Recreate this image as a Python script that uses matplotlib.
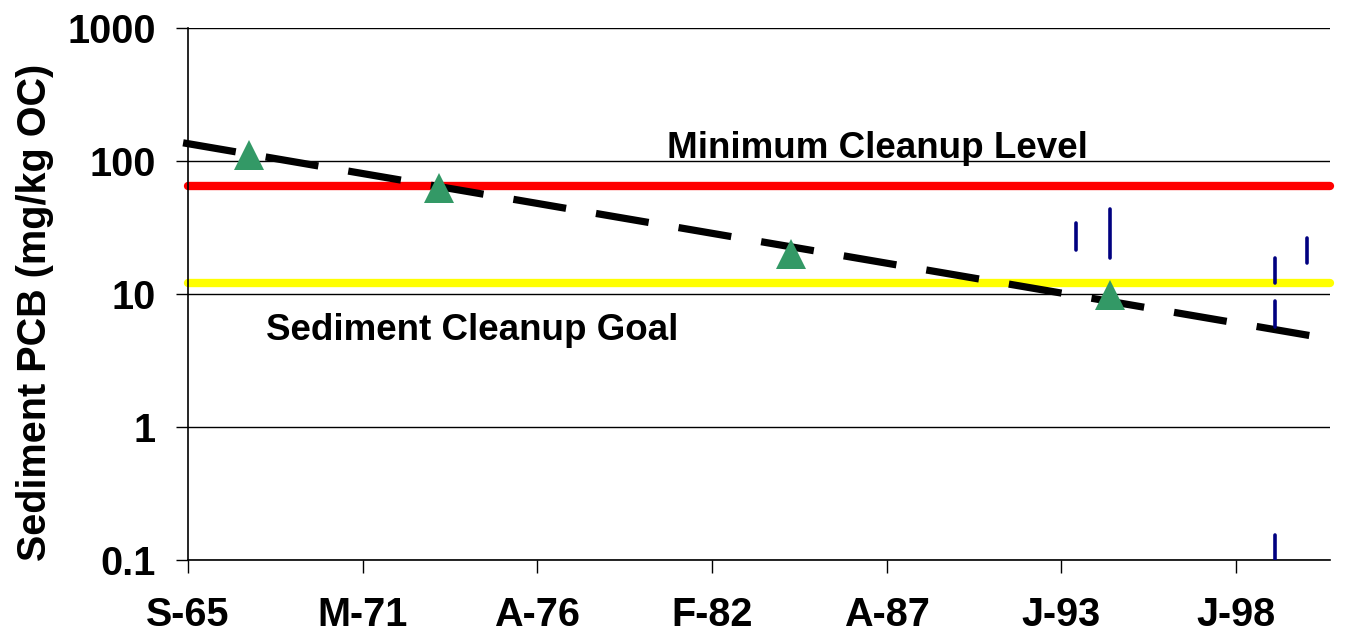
import datetime as dt

import matplotlib
matplotlib.use("Agg")
import matplotlib.pyplot as plt

plt.rcParams['font.family'] = ['Liberation Sans', 'DejaVu Sans']
plt.rcParams['font.weight'] = 'bold'

# axis start and tick layout (Excel style date axis, 2000 day steps)
axis_start = dt.date(1965, 9, 10)
axis_end = dt.date(2001, 6, 29)
tick_labels = ['S-65', 'M-71', 'A-76', 'F-82', 'A-87', 'J-93', 'J-98']
y_ticks = [0.1, 1, 10, 100, 1000]
y_tick_labels = ['0.1', '1', '10', '100', '1000']

# cleanup levels (mg/kg OC)
min_cleanup_level = 65
sediment_goal = 12

# surface sediment means
survey_dates = [dt.date(1967, 8, 9), dt.date(1973, 7, 24),
                dt.date(1984, 8, 6), dt.date(1994, 8, 10)]
survey_pcb = [110, 63, 20, 9.8]

# ranges from the later sampling events
range_dates = [dt.date(1993, 7, 13), dt.date(1994, 8, 10), dt.date(1999, 10, 9),
               dt.date(1999, 10, 9), dt.date(2000, 10, 9), dt.date(1999, 10, 9)]
range_low = [21.4, 18.7, 12.1, 5.65, 17.1, 0.09]
range_high = [34.2, 43.6, 18.7, 8.85, 26.4, 0.155]

# exponential trend line end points
trend_dates = [dt.date(1965, 7, 15), dt.date(2001, 2, 12)]
trend_pcb = [137, 4.75]

fig = plt.figure(figsize=(13.51, 6.38), dpi=100)
ax = fig.add_axes([0.1392, 0.1223, 0.8453, 0.8338])

ax.set_yscale('log')
ax.set_ylim(0.1, 1000)
ax.set_xlim(axis_start, axis_end)

ax.plot([axis_start, axis_end], [min_cleanup_level] * 2, color='#FF0000',
        lw=6, solid_capstyle='round', clip_on=False, zorder=2)
ax.plot([axis_start, axis_end], [sediment_goal] * 2, color='#FFFF00',
        lw=6, solid_capstyle='round', clip_on=False, zorder=2)

ax.plot(trend_dates, trend_pcb, color='black', lw=5.2, dashes=(7.4, 4.2),
        dash_capstyle='butt', clip_on=False, zorder=3)

ax.plot(survey_dates, survey_pcb, linestyle='none', marker='^', ms=22,
        color='#339966', markeredgewidth=0, zorder=4)

ax.vlines(range_dates, range_low, range_high, color='#000080', lw=2.6,
          capstyle='round', zorder=5)

ax.text(0.604, 0.756, 'Minimum Cleanup Level', transform=ax.transAxes,
        ha='center', va='baseline', fontsize=26.5, fontweight='bold')
ax.text(0.249, 0.4135, 'Sediment Cleanup Goal', transform=ax.transAxes,
        ha='center', va='baseline', fontsize=26.5, fontweight='bold')

ticks = [axis_start + dt.timedelta(days=2000 * i) for i in range(len(tick_labels))]
ax.set_xticks(ticks)
ax.set_xticklabels(tick_labels)
ax.set_yticks(y_ticks)
ax.set_yticklabels(y_tick_labels)
ax.yaxis.set_minor_locator(matplotlib.ticker.NullLocator())

ax.tick_params(axis='both', labelsize=28.5, length=9, width=1, direction='out')
ax.tick_params(axis='x', pad=17)
ax.tick_params(axis='y', pad=14)

ax.grid(axis='y', color='black', lw=1)
ax.set_axisbelow(True)
for side in ['top', 'right']:
    ax.spines[side].set_visible(False)
for side in ['left', 'bottom']:
    ax.spines[side].set_linewidth(1.2)

ax.set_ylabel('Sediment PCB (mg/kg OC)', fontsize=28.5, fontweight='bold')
ax.yaxis.set_label_coords(-0.117, 0.466)

fig.savefig('out.png', dpi=100)
